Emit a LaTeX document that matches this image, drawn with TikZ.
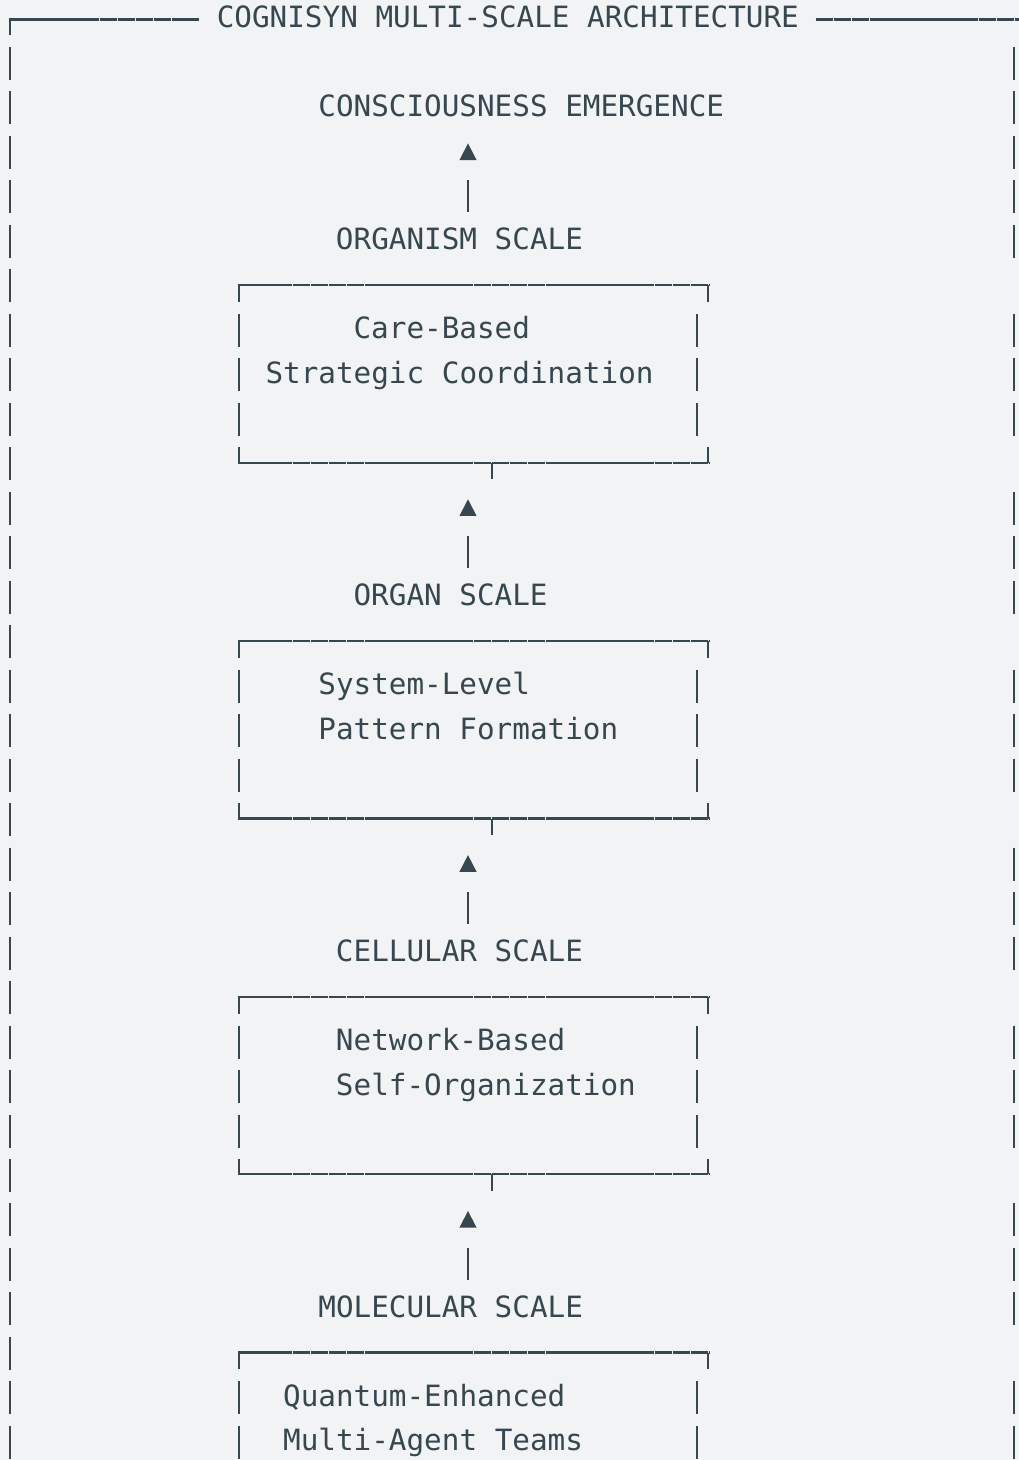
\documentclass[tikz,border=0pt]{standalone}
\usepackage{fontspec}
\setmonofont{DejaVu Sans Mono}
\definecolor{ink}{HTML}{37474F}
\definecolor{paper}{HTML}{F1F3F4}
\tikzset{
  lbl/.style={font=\ttfamily\fontsize{29.3}{30}\selectfont, text=ink, inner sep=0pt, anchor=base west},
  rule/.style={draw=ink, line width=2.2pt},
  hrule/.style={rule, dash pattern=on 17.6pt off 0.5pt},
  tip/.style={fill=ink},
  declare function={rowy(\r)=27.5+44.48*\r; colx(\k)=1+17.62*\k;}
}
\begin{document}
\begin{tikzpicture}[x=1pt, y=-1pt]
  % canvas
  \fill[paper] (0,0) rectangle (1019,1460);
  \useasboundingbox (0,0) rectangle (1019,1460);

  % outer frame: title rule and corner
  \draw[rule] (10,{rowy(0)+7.5}) -- (10,19.5);
  \draw[hrule] (9,19.5) -- (199,19.5);
  \draw[hrule] (815.6,19.5) -- (1019,19.5);
  \node[lbl] (title) at (216.6,{rowy(0)}) {COGNISYN MULTI-SCALE ARCHITECTURE};

  % outer frame: left and right sides
  \foreach \r in {1,...,32}
    \draw[rule] (10,{rowy(\r)-25}) -- (10,{rowy(\r)+8});
  \foreach \r in {1,2,3,4,5,7,8,9,11,12,13,15,16,17,19,20,21,23,24,25,27,28,29,31,32}
    \draw[rule] (1013.7,{rowy(\r)-25}) -- (1013.7,{rowy(\r)+8});

  % upward arrows (triangle head and stem)
  \foreach \r in {3,11,19,27}{
    \fill[tip] (468,{rowy(\r)-17.5}) -- (476.6,{rowy(\r)-0.8}) -- (459.4,{rowy(\r)-0.8}) -- cycle;
    \draw[rule] (468.3,{rowy(\r+1)-25}) -- (468.3,{rowy(\r+1)+7});
  }

  % scale boxes: top row given
  \foreach \t in {6,14,22,30}{
    \draw[rule] (239.3,{rowy(\t)+7.5}) -- (239.3,{rowy(\t)-9.4});
    \draw[hrule] (238.2,{rowy(\t)-9.4}) -- (709.4,{rowy(\t)-9.4});
    \draw[rule] (708.3,{rowy(\t)-9.4}) -- (708.3,{rowy(\t)+7.5});
    \foreach \s in {1,2,3}{
      \pgfmathtruncatemacro\rr{\t+\s}
      \ifnum\rr<33
        \draw[rule] (239.3,{rowy(\rr)-25}) -- (239.3,{rowy(\rr)+8});
        \draw[rule] (697.3,{rowy(\rr)-25}) -- (697.3,{rowy(\rr)+8});
      \fi
    }
  }
  \foreach \b in {10,18,26}{
    \draw[rule] (239.3,{rowy(\b)-25}) -- (239.3,{rowy(\b)-9.6});
    \draw[hrule] (238.2,{rowy(\b)-9.6}) -- (709.4,{rowy(\b)-9.6});
    \draw[rule] (708.3,{rowy(\b)-25}) -- (708.3,{rowy(\b)-9.6});
    \draw[rule] (491.7,{rowy(\b)-9.6}) -- (491.7,{rowy(\b)+7});
  }

  % labels
  \node[lbl] (top)    at ({colx(18)},{rowy(2)})  {CONSCIOUSNESS EMERGENCE};
  \node[lbl] (organism) at ({colx(19)},{rowy(5)}) {ORGANISM SCALE};
  \node[lbl] (org1)   at ({colx(20)},{rowy(7)})  {Care-Based};
  \node[lbl] (org2)   at ({colx(15)},{rowy(8)})  {Strategic Coordination};
  \node[lbl] (organ)  at ({colx(20)},{rowy(13)}) {ORGAN SCALE};
  \node[lbl] (sys1)   at ({colx(18)},{rowy(15)}) {System-Level};
  \node[lbl] (sys2)   at ({colx(18)},{rowy(16)}) {Pattern Formation};
  \node[lbl] (cell)   at ({colx(19)},{rowy(21)}) {CELLULAR SCALE};
  \node[lbl] (net1)   at ({colx(19)},{rowy(23)}) {Network-Based};
  \node[lbl] (net2)   at ({colx(19)},{rowy(24)}) {Self-Organization};
  \node[lbl] (mol)    at ({colx(18)},{rowy(29)}) {MOLECULAR SCALE};
  \node[lbl] (q1)     at ({colx(16)},{rowy(31)}) {Quantum-Enhanced};
  \node[lbl] (q2)     at ({colx(16)},{rowy(32)}) {Multi-Agent Teams};
\end{tikzpicture}
\end{document}
